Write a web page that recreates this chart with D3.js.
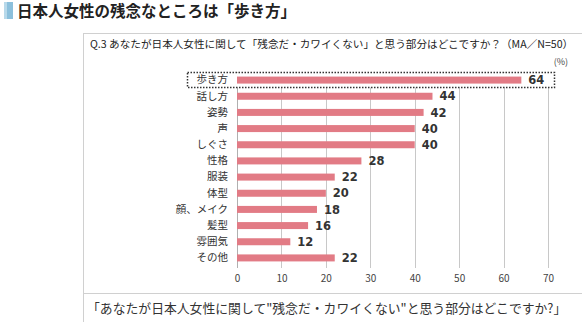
<!DOCTYPE html>
<html><head><meta charset="utf-8">
<script src="https://cdn.jsdelivr.net/npm/d3@7"></script>
<style>body{margin:0;background:#fff}svg{display:block}</style>
</head><body>
<svg id="c" width="582" height="322"></svg>
<script>
const categories = ["歩き方","話し方","姿勢","声","しぐさ","性格","服装","体型","顔、メイク","髪型","雰囲気","その他"];
const values = [64,44,42,40,40,28,22,20,18,16,12,22];
const xTicks = [0,10,20,30,40,50,60,70];
const titleText = "日本人女性の残念なところは「歩き方」";
const questionText = "Q.3  あなたが日本人女性に関して「残念だ・カワイくない」と思う部分はどこですか？（MA／N=50）";
const captionText = "「あなたが日本人女性に関して\"残念だ・カワイくない\"と思う部分はどこですか?」";

const svg = d3.select("#c");
const FONT = "'Noto Sans CJK JP', 'Noto Sans', sans-serif";

// title
svg.append("rect").attr("x",4).attr("y",2).attr("width",9).attr("height",17).attr("fill","#8cc0dc");
svg.append("rect").attr("x",4).attr("y",2).attr("width",3).attr("height",17).attr("fill","#b8d9ea");
svg.append("text").attr("x",17).attr("y",17).attr("font-family",FONT).attr("font-weight","bold")
  .attr("font-size",15.5).attr("fill","#222").text(titleText);

// box
svg.append("line").attr("x1",83.5).attr("x2",83.5).attr("y1",33).attr("y2",322).attr("stroke","#d0d0d0");
svg.append("line").attr("x1",83).attr("x2",582).attr("y1",33.5).attr("y2",33.5).attr("stroke","#d0d0d0");
svg.append("line").attr("x1",83).attr("x2",582).attr("y1",293.5).attr("y2",293.5).attr("stroke","#d0d0d0");

const q = svg.append("text").attr("x",90).attr("y",48).attr("font-family",FONT).attr("font-size",11).attr("fill","#222")
  .text(questionText);
// fit question to measured width
const qw = q.node().getComputedTextLength();
if (qw > 484) q.attr("font-size", 11*484/qw);

svg.append("text").attr("x",568).attr("y",65).attr("text-anchor","end").attr("font-family",FONT)
  .attr("font-size",9).attr("fill","#444").text("(%)");

const cap = svg.append("text").attr("x",87).attr("y",313).attr("font-family",FONT).attr("font-size",13).attr("fill","#333")
  .text(captionText);
const cw = cap.node().getComputedTextLength();
if (cw > 480) cap.attr("font-size", 13*480/cw);

// scales
const x = d3.scaleLinear().domain([0,70]).range([237,548]);
const y = d3.scaleBand().domain(categories).range([72,266]).paddingInner(0.58).paddingOuter(0.29);

// grid
const grid = svg.append("g");
grid.selectAll("line").data(xTicks).join("line")
  .attr("x1",d=>Math.round(x(d))+0.5).attr("x2",d=>Math.round(x(d))+0.5)
  .attr("y1",72).attr("y2",268).attr("stroke",d=>d===0?"#b0b0b0":"#c8c8c8");

// highlight box
svg.append("rect").attr("x",187.5).attr("y",72.5).attr("width",367).attr("height",15)
  .attr("fill","#fff").attr("stroke","#333").attr("stroke-width",1.5).attr("stroke-dasharray","1.5,1.5");

// axis
const xAxis = d3.axisBottom(x).tickValues(xTicks).tickSize(0).tickPadding(0);
const ax = svg.append("g").attr("transform","translate(0,275)").call(xAxis);
ax.select(".domain").remove();
ax.selectAll("text").attr("font-family",FONT).attr("font-size",10).attr("fill","#444").attr("dy","0.71em");

// bars
svg.append("g").selectAll("rect").data(values).join("rect")
  .attr("x",x(0)).attr("y",(d,i)=>y(categories[i])+y.bandwidth()/2-3.5)
  .attr("width",d=>x(d)-x(0)).attr("height",7).attr("fill","#e27b85");

// labels
const yAxis = d3.axisLeft(y).tickSize(0).tickPadding(0);
const ay = svg.append("g").attr("transform","translate(228,0)").call(yAxis);
ay.select(".domain").remove();
ay.selectAll("text").attr("font-family",FONT).attr("font-size",10.5).attr("fill","#333");

svg.append("g").selectAll("text").data(values).join("text")
  .attr("x",d=>x(d)+7).attr("y",(d,i)=>y(categories[i])+y.bandwidth()/2)
  .attr("dy","0.36em").attr("font-family","'DejaVu Sans', sans-serif").attr("font-weight","bold")
  .attr("font-size",11.5).attr("fill","#333").text(d=>d);
</script>
</body></html>
